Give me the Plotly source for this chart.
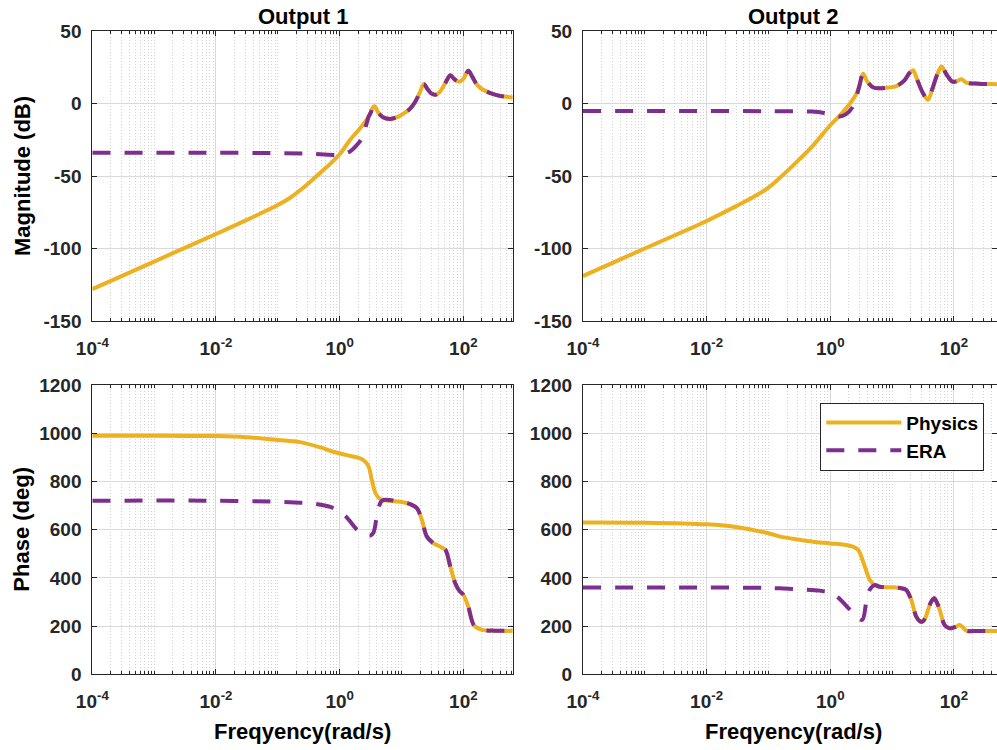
import plotly.graph_objects as go

W, H = 997, 750

# ---------------- data (log10 of frequency in rad/s, value) ----------------
phys_mag1_logw = [-4, -3, -2, -1.5, -1.25, -1, -0.8, -0.6, -0.4, -0.2, 0, 0.17, 0.33, 0.44, 0.5, 0.54, 0.57, 0.62, 0.7, 0.82, 0.95, 1.05, 1.14, 1.22, 1.3, 1.36, 1.42, 1.48, 1.55, 1.62, 1.7, 1.79, 1.85, 1.93, 2.0, 2.08, 2.15, 2.22, 2.3, 2.45, 2.6, 2.8]
phys_mag1_db = [-128, -109, -90, -80.3, -75.2, -70, -65, -58.5, -51, -43.5, -35, -25, -17, -11, -6.5, -2.5, -2, -6, -9.5, -10.7, -9, -6.5, -3.5, 1, 8, 13.5, 10, 7, 6, 8, 13.5, 19.5, 17, 15, 17, 22.5, 18, 13, 10, 7, 5.2, 4.2]
era_mag1_logw = [-4, -2, -1, -0.5, -0.1, 0.05, 0.17, 0.28, 0.36, 0.42, 0.47]
era_mag1_db = [-34, -34, -34.2, -34.6, -35.5, -35, -33, -28.5, -24, -16, -9]

phys_mag2_logw = [-4, -3, -2, -1.5, -1.2, -1, -0.81, -0.5, -0.28, 0, 0.15, 0.3, 0.4, 0.47, 0.53, 0.6, 0.7, 0.8, 0.95, 1.07, 1.2, 1.28, 1.34, 1.4, 1.5, 1.58, 1.65, 1.73, 1.8, 1.88, 1.98, 2.05, 2.12, 2.2, 2.4, 2.63, 2.8]
phys_mag2_db = [-119, -100, -81, -70.3, -63.5, -58, -51, -38.5, -29, -15, -8.5, -1, 5, 12, 20.5, 15, 11, 10.5, 11, 12, 16, 21, 23, 17, 7, 2.5, 10, 20, 25.5, 20, 15, 15.5, 16.7, 14.4, 13.7, 13.4, 13.2]
era_mag2_logw = [-4, -2, -1, -0.3, -0.1, 0.05, 0.15, 0.25, 0.36, 0.42]
era_mag2_db = [-5.2, -5.2, -5.3, -5.6, -6.5, -8, -9, -7.5, -2.6, 4]

phys_ph1_logw = [-4, -3, -2, -1.5, -1, -0.64, -0.3, -0.1, 0.1, 0.33, 0.42, 0.47, 0.52, 0.58, 0.64, 0.71, 0.98, 1.15, 1.25, 1.33, 1.41, 1.52, 1.62, 1.71, 1.79, 1.87, 1.94, 2.0, 2.08, 2.17, 2.3, 2.5, 2.8]
phys_ph1_deg = [990, 990, 988, 983, 972, 963, 940, 923, 910, 896, 880, 861, 806, 751, 730, 723, 716, 705, 689, 640, 571, 543, 530, 516, 446, 377, 345, 330, 280, 204, 184, 181, 180]
era_ph1_logw = [-4, -2, -1, -0.64, -0.45, -0.15, 0.09, 0.28, 0.4, 0.5, 0.55, 0.6, 0.66]
era_ph1_deg = [720, 720, 716, 712, 709, 694, 657, 600, 580, 576, 590, 654, 712]

phys_ph2_logw = [-4, -3, -2, -1.5, -1, -0.81, -0.5, -0.28, 0, 0.26, 0.38, 0.45, 0.5, 0.56, 0.64, 0.72, 0.8, 1.02, 1.15, 1.23, 1.31, 1.39, 1.45, 1.49, 1.54, 1.58, 1.63, 1.68, 1.72, 1.77, 1.85, 1.92, 1.96, 2.03, 2.09, 2.14, 2.2, 2.4, 2.8]
phys_ph2_deg = [630, 629, 622, 610, 585, 571, 558, 550, 543, 536, 528, 516, 490, 446, 391, 370, 363, 361, 357, 350, 308, 239, 220, 218, 235, 267, 300, 315, 300, 267, 204, 192, 191, 197, 204, 196, 181, 180, 180]
era_ph2_logw = [-4, -2, -1, -0.44, -0.17, 0.0, 0.12, 0.31, 0.45, 0.52, 0.58, 0.64]
era_ph2_deg = [360, 360, 358, 352, 347, 338, 320, 270, 232, 226, 296, 352]

x_tickvals = [1e-4, 1e-2, 1, 1e2]
x_ticktext = ["10<sup>-4</sup>", "10<sup>-2</sup>", "10<sup>0</sup>", "10<sup>2</sup>"]
mag_ticks = [-150, -100, -50, 0, 50]
phase_ticks = [0, 200, 400, 600, 800, 1000, 1200]

PHYS_COLOR = "#EDB120"
ERA_COLOR = "#7E2F8E"
AX = "#262626"
FONT = "Liberation Sans"


def to_w(logw):
    return [10 ** v for v in logw]


def era_full(era_lw, era_v, ph_lw, ph_v):
    lw = list(era_lw) + [a for a in ph_lw if a > era_lw[-1]]
    v = list(era_v) + [b for a, b in zip(ph_lw, ph_v) if a > era_lw[-1]]
    return to_w(lw), v


fig = go.Figure()

panels = [
    ("x", "y", phys_mag1_logw, phys_mag1_db, era_mag1_logw, era_mag1_db, True),
    ("x2", "y2", phys_mag2_logw, phys_mag2_db, era_mag2_logw, era_mag2_db, False),
    ("x3", "y3", phys_ph1_logw, phys_ph1_deg, era_ph1_logw, era_ph1_deg, False),
    ("x4", "y4", phys_ph2_logw, phys_ph2_deg, era_ph2_logw, era_ph2_deg, False),
]

for xa, ya, plw, pv, elw, ev, show in panels:
    fig.add_trace(go.Scatter(x=to_w(plw), y=pv, xaxis=xa, yaxis=ya, mode="lines",
                             name="Physics", showlegend=show, legendrank=1,
                             line=dict(color=PHYS_COLOR, width=4, shape="spline", smoothing=0.9)))
for xa, ya, plw, pv, elw, ev, show in panels:
    ex, ey = era_full(elw, ev, plw, pv)
    fig.add_trace(go.Scatter(x=ex, y=ey, xaxis=xa, yaxis=ya, mode="lines",
                             name="ERA", showlegend=show, legendrank=2,
                             line=dict(color=ERA_COLOR, width=4, dash="18px,14px", shape="spline", smoothing=0.9)))


def px(x):
    return x / W


def py(y):
    return 1 - y / H


L1, R1 = 92.3, 512.7
L2, R2 = 582.9, 997
T1, B1 = 31, 321
T2, B2 = 385, 674.3

dec = (R1 - L1) / 6.798
right_max = -4 + (R2 - L2) / dec

tickfont = dict(family=FONT, size=19, color=AX, weight="bold")


def xaxis_cfg(left, right, rmax, anchor):
    return dict(type="log", domain=[px(left), px(right)], range=[-4, rmax], anchor=anchor,
                automargin=False,
                tickmode="array", tickvals=x_tickvals, ticktext=x_ticktext,
                ticks="inside", ticklen=5, tickcolor=AX, tickwidth=1,
                showline=True, linecolor=AX, linewidth=1, mirror="allticks",
                showgrid=True, gridcolor="#d9d9d9", gridwidth=1,
                minor=dict(dtick="D1", ticks="inside", ticklen=3, tickcolor=AX,
                           showgrid=True, gridcolor="#d4d4d4", griddash="1px,2px", gridwidth=1),
                tickfont=tickfont, ticklabelstandoff=10, zeroline=False)


def yaxis_cfg(top, bottom, rng, vals, anchor):
    return dict(domain=[py(bottom), py(top)], range=rng, anchor=anchor,
                automargin=False,
                tickmode="array", tickvals=vals, ticktext=[str(v) for v in vals],
                ticks="inside", ticklen=5, tickcolor=AX, tickwidth=1,
                showline=True, linecolor=AX, linewidth=1, mirror="allticks",
                showgrid=True, gridcolor="#d9d9d9", gridwidth=1,
                tickfont=tickfont, ticklabelstandoff=6, zeroline=False)


fig.update_layout(
    width=W, height=H, margin=dict(l=0, r=0, t=0, b=0, autoexpand=False),
    paper_bgcolor="white", plot_bgcolor="white",
    xaxis=xaxis_cfg(L1, R1, 6.798 - 4, "y"),
    xaxis2=xaxis_cfg(L2, R2, right_max, "y2"),
    xaxis3=xaxis_cfg(L1, R1, 6.798 - 4, "y3"),
    xaxis4=xaxis_cfg(L2, R2, right_max, "y4"),
    yaxis=yaxis_cfg(T1, B1, [-150, 50], mag_ticks, "x"),
    yaxis2=yaxis_cfg(T1, B1, [-150, 50], mag_ticks, "x2"),
    yaxis3=yaxis_cfg(T2, B2, [0, 1200], phase_ticks, "x3"),
    yaxis4=yaxis_cfg(T2, B2, [0, 1200], phase_ticks, "x4"),
    showlegend=True,
    legend=dict(x=px(984.3), xanchor="right", y=py(402.7), yanchor="top",
                bgcolor="white", bordercolor=AX, borderwidth=1,
                font=dict(family=FONT, size=19, color="black", weight="bold"),
                itemwidth=75, tracegroupgap=0),
)

r2_nominal = L2 + 6.798 * dec

annos = [
    dict(text="Output 1", x=px((L1 + R1) / 2), y=py(17)),
    dict(text="Output 2", x=px((L2 + r2_nominal) / 2), y=py(17)),
    dict(text="Freqyency(rad/s)", x=px((L1 + R1) / 2), y=py(731)),
    dict(text="Freqyency(rad/s)", x=px((L2 + r2_nominal) / 2), y=py(731)),
    dict(text="Magnitude (dB)", x=px(22), y=py((T1 + B1) / 2), textangle=-90),
    dict(text="Phase (deg)", x=px(22), y=py((T2 + B2) / 2), textangle=-90),
]
for a in annos:
    fig.add_annotation(xref="paper", yref="paper", showarrow=False,
                       xanchor="center", yanchor="middle",
                       font=dict(family=FONT, size=22, color="black", weight="bold"), **a)

fig.write_html("out.html")
